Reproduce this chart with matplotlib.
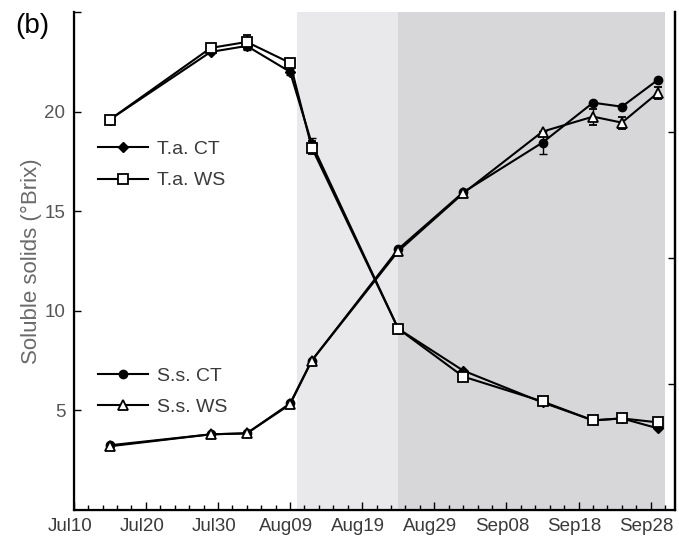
import numpy as np
import matplotlib
matplotlib.use('Agg')
import matplotlib.pyplot as plt
import matplotlib.dates as mdates
import matplotlib.transforms as mtransforms
from matplotlib.ticker import FixedLocator

plt.rcParams['font.family'] = ['Liberation Sans', 'DejaVu Sans']

# sampling dates
dates = np.array(['2012-07-15', '2012-07-29', '2012-08-03', '2012-08-09', '2012-08-12',
                  '2012-08-24', '2012-09-02', '2012-09-13', '2012-09-20', '2012-09-24',
                  '2012-09-29'], dtype='datetime64[D]')

# soluble solids (°Brix)
ta_ct = [19.6, 23.0, 23.3, 22.0, 18.4, 9.1, 7.0, 5.4, 4.5, 4.6, 4.1]
ta_ws = [19.6, 23.2, 23.5, 22.45, 18.2, 9.1, 6.7, 5.45, 4.5, 4.6, 4.4]
ss_ct = [3.25, 3.8, 3.85, 5.35, 7.5, 13.1, 15.95, 18.45, 20.45, 20.25, 21.6]
ss_ws = [3.2, 3.8, 3.85, 5.3, 7.5, 13.0, 15.9, 19.0, 19.75, 19.45, 20.95]

ta_ct_err = [0, 0, 0.2, 0.15, 0.3, 0, 0, 0, 0, 0, 0]
ta_ws_err = [0, 0.1, 0.35, 0.2, 0.35, 0, 0, 0, 0, 0, 0]
ss_ct_err = [0, 0, 0, 0, 0, 0, 0, 0.6, 0, 0, 0]
ss_ws_err = [0, 0, 0, 0, 0, 0, 0, 0, 0.4, 0.3, 0.3]

# shaded periods
light_span = ('2012-08-10', '2012-08-24')
dark_span = ('2012-08-24', '2012-09-30')

txt = '#3a3a3a'

fig = plt.figure(figsize=(6.79, 5.49), dpi=100)
ax = fig.add_axes([0.1085, 0.071, 0.886, 0.907])

ax.axvspan(np.datetime64(light_span[0]), np.datetime64(light_span[1]), color='#e9e9eb', lw=0, zorder=0)
ax.axvspan(np.datetime64(dark_span[0]), np.datetime64(dark_span[1]), color='#d7d7d9', lw=0, zorder=0)

common = dict(color='black', lw=1.5, capsize=3, elinewidth=1.0, capthick=1.0, zorder=3)
h1 = ax.errorbar(dates, ta_ct, yerr=ta_ct_err, marker='D', ms=5, mfc='black', mec='black', **common)
h2 = ax.errorbar(dates, ta_ws, yerr=ta_ws_err, marker='s', ms=6.5, mfc='white', mec='black', mew=1.3, **common)
h3 = ax.errorbar(dates, ss_ct, yerr=ss_ct_err, marker='o', ms=6, mfc='black', mec='black', **common)
h4 = ax.errorbar(dates, ss_ws, yerr=ss_ws_err, marker='^', ms=6.5, mfc='white', mec='black', mew=1.3, **common)

ax.set_xlim(np.datetime64('2012-07-10'), mdates.date2num(np.datetime64('2012-10-01')) + 0.4)
ax.set_ylim(0, 25)

major = np.arange(np.datetime64('2012-07-10'), np.datetime64('2012-10-01'), 10)
minor = np.arange(np.datetime64('2012-07-10'), np.datetime64('2012-10-02'), 2)
ax.xaxis.set_major_locator(FixedLocator(mdates.date2num(major)))
ax.xaxis.set_minor_locator(FixedLocator(mdates.date2num(minor)))
ax.xaxis.set_major_formatter(mdates.DateFormatter('%b%d'))

ax.set_yticks([5, 10, 15, 20, 25])
ax.set_yticklabels(['5', '10', '15', '20', ''])

ax.tick_params(axis='x', which='major', direction='in', length=6, width=1.0, labelsize=13.5, colors='black', labelcolor=txt, pad=6)
ax.tick_params(axis='x', which='minor', direction='in', length=3.5, width=1.0)
ax.tick_params(axis='y', direction='in', length=5, width=1.0, labelsize=13.5, labelcolor='#555555', pad=6)

# labels sit a little left of their ticks in the original
shift = mtransforms.ScaledTranslation(-4 / 100, 0, fig.dpi_scale_trans)
for lab in ax.get_xticklabels():
    lab.set_transform(lab.get_transform() + shift)

ax.spines['top'].set_visible(False)
for s in ['left', 'bottom', 'right']:
    ax.spines[s].set_linewidth(1.6)

ax.set_ylabel('Soluble solids (°Brix)', fontsize=16, color='#6a6a6a', labelpad=2)

ax2 = ax.twinx()
ax2.set_ylim(0, 3.95)
ax2.set_yticks([1, 2, 3])
ax2.tick_params(axis='y', direction='in', length=5, width=1.0, labelright=False)
ax2.spines['top'].set_visible(False)
ax2.spines['right'].set_linewidth(1.6)

leg_kw = dict(loc='upper left', frameon=False, fontsize=14, handlelength=2.6, handletextpad=0.45,
              labelspacing=0.7, borderpad=0, borderaxespad=0, labelcolor=txt)
leg1 = ax.legend([h1[0], h2[0]], ['T.a. CT', 'T.a. WS'], bbox_to_anchor=(0.04, 0.742), **leg_kw)
ax.add_artist(leg1)
ax.legend([h3[0], h4[0]], ['S.s. CT', 'S.s. WS'], bbox_to_anchor=(0.04, 0.287), **leg_kw)

fig.text(0.022, 0.953, '(b)', fontsize=20, color='black', va='center')

fig.savefig('out.png', dpi=100)
